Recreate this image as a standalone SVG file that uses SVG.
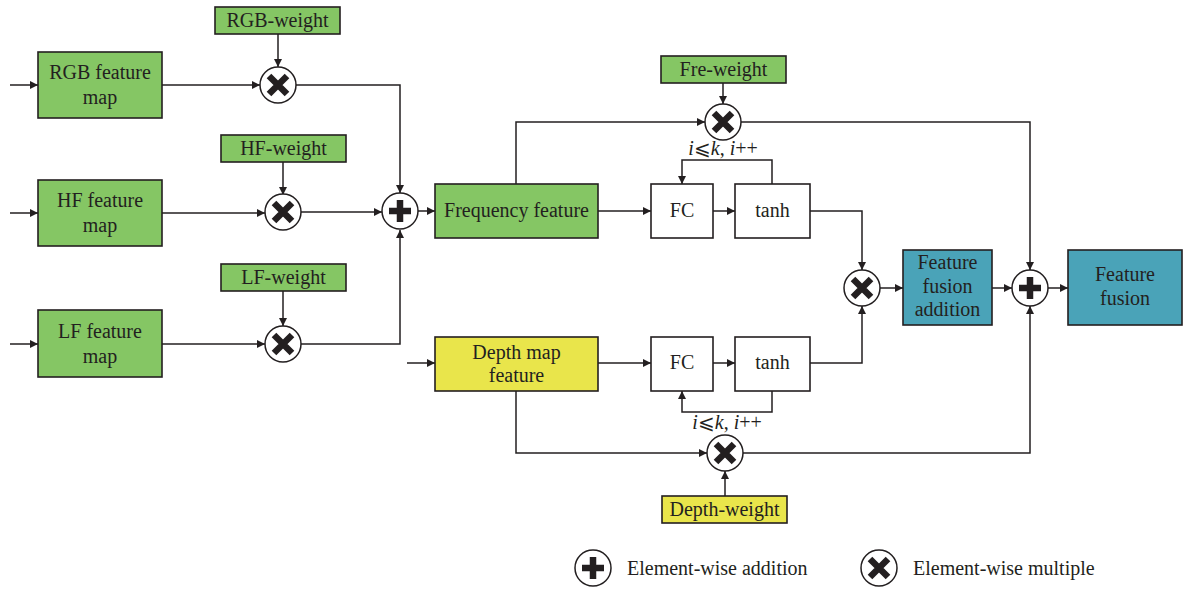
<svg xmlns="http://www.w3.org/2000/svg" xmlns:xlink="http://www.w3.org/1999/xlink" width="1184" height="589" viewBox="0 0 1184 589">
<style>
.box{stroke:#231f20;stroke-width:1.6}
.g{fill:#85c664}
.y{fill:#e9e54b}
.t{fill:#4aa3b8}
.w{fill:#ffffff}
text{font-family:"Liberation Serif","Times New Roman",serif;font-size:20px;fill:#231f20;text-anchor:middle}
.lbl{font-size:20px}
.it{font-style:italic}
.ln{fill:none;stroke:#231f20;stroke-width:1.5}
.leg{text-anchor:start}
</style>
<defs>
<marker id="ah" viewBox="0 0 10 10" refX="10" refY="5" markerWidth="9" markerHeight="8" markerUnits="userSpaceOnUse" orient="auto">
<path d="M0,0 L10,5 L0,10 z" fill="#231f20"/>
</marker>
<g id="mul">
<circle r="18" fill="#ffffff" stroke="#231f20" stroke-width="1.5"/>
<path d="M-9,-9 L9,9 M9,-9 L-9,9" stroke="#231f20" stroke-width="6.5"/>
</g>
<g id="add">
<circle r="18" fill="#ffffff" stroke="#231f20" stroke-width="1.5"/>
<path d="M-11,0 L11,0 M0,-11 L0,11" stroke="#231f20" stroke-width="6.5"/>
</g>
</defs>
<rect width="1184" height="589" fill="#ffffff"/>

<g id="connectors">
<path class="ln" d="M10,85 L38,85" marker-end="url(#ah)"/>
<path class="ln" d="M10,213 L38,213" marker-end="url(#ah)"/>
<path class="ln" d="M10,344 L38,344" marker-end="url(#ah)"/>
<path class="ln" d="M162,85 L260,85" marker-end="url(#ah)"/>
<path class="ln" d="M162,213 L265,213" marker-end="url(#ah)"/>
<path class="ln" d="M162,344 L265,344" marker-end="url(#ah)"/>
<path class="ln" d="M278,34 L278,67" marker-end="url(#ah)"/>
<path class="ln" d="M283,162 L283,195" marker-end="url(#ah)"/>
<path class="ln" d="M283,291 L283,326" marker-end="url(#ah)"/>
<path class="ln" d="M296,85 L400,85 L400,193" marker-end="url(#ah)"/>
<path class="ln" d="M301,212 L382,212" marker-end="url(#ah)"/>
<path class="ln" d="M301,344 L400,344 L400,230" marker-end="url(#ah)"/>
<path class="ln" d="M418,211 L435,211" marker-end="url(#ah)"/>
<path class="ln" d="M516,184 L516,122 L705,122" marker-end="url(#ah)"/>
<path class="ln" d="M723,83 L723,104" marker-end="url(#ah)"/>
<path class="ln" d="M598,211 L651,211" marker-end="url(#ah)"/>
<path class="ln" d="M713,211 L735,211" marker-end="url(#ah)"/>
<path class="ln" d="M772,184 L772,160 L682,160 L682,184" marker-end="url(#ah)"/>
<path class="ln" d="M810,211 L862,211 L862,270" marker-end="url(#ah)"/>
<path class="ln" d="M741,122 L1030,122 L1030,270" marker-end="url(#ah)"/>
<path class="ln" d="M880,288 L903,288" marker-end="url(#ah)"/>
<path class="ln" d="M992,288 L1012,288" marker-end="url(#ah)"/>
<path class="ln" d="M1048,288 L1068,288" marker-end="url(#ah)"/>
<path class="ln" d="M407,363 L435,363" marker-end="url(#ah)"/>
<path class="ln" d="M598,363 L651,363" marker-end="url(#ah)"/>
<path class="ln" d="M713,363 L735,363" marker-end="url(#ah)"/>
<path class="ln" d="M810,363 L862,363 L862,306" marker-end="url(#ah)"/>
<path class="ln" d="M772,391 L772,412 L682,412 L682,391" marker-end="url(#ah)"/>
<path class="ln" d="M516,391 L516,453 L707,453" marker-end="url(#ah)"/>
<path class="ln" d="M725,496 L725,471" marker-end="url(#ah)"/>
<path class="ln" d="M743,453 L1030,453 L1030,306" marker-end="url(#ah)"/>
</g>

<g id="rgb-map"><rect class="box g" x="38" y="52" width="124" height="66"/><text x="100" y="79">RGB feature</text><text x="100" y="104">map</text></g>
<g id="hf-map"><rect class="box g" x="38" y="180" width="124" height="66"/><text x="100" y="207">HF feature</text><text x="100" y="232">map</text></g>
<g id="lf-map"><rect class="box g" x="38" y="310" width="124" height="67"/><text x="100" y="338">LF feature</text><text x="100" y="363">map</text></g>
<g id="rgb-weight"><rect class="box g" x="215" y="7" width="125" height="27"/><text x="277.5" y="27">RGB-weight</text></g>
<g id="hf-weight"><rect class="box g" x="221" y="135" width="125" height="27"/><text x="283.5" y="155">HF-weight</text></g>
<g id="lf-weight"><rect class="box g" x="221" y="264" width="125" height="27"/><text x="283.5" y="284">LF-weight</text></g>
<g id="mul-rgb"><use xlink:href="#mul" href="#mul" x="278" y="85"/></g>
<g id="mul-hf"><use xlink:href="#mul" href="#mul" x="283" y="212"/></g>
<g id="mul-lf"><use xlink:href="#mul" href="#mul" x="283" y="344"/></g>
<g id="add-1"><use xlink:href="#add" href="#add" x="400" y="211"/></g>
<g id="freq"><rect class="box g" x="435" y="184" width="163" height="54"/><text x="516.5" y="217">Frequency feature</text></g>
<g id="fre-weight"><rect class="box g" x="661" y="56" width="125" height="27"/><text x="723.5" y="76">Fre-weight</text></g>
<g id="mul-fre"><use xlink:href="#mul" href="#mul" x="723" y="122"/></g>
<g id="loop-top"><text x="723" y="155"><tspan class="it">i</tspan>⩽<tspan class="it">k</tspan>, <tspan class="it">i</tspan>++</text></g>
<g id="fc-1"><rect class="box w" x="651" y="184" width="62" height="54"/><text x="682" y="217">FC</text></g>
<g id="tanh-1"><rect class="box w" x="735" y="184" width="75" height="54"/><text x="772.5" y="217">tanh</text></g>
<g id="mul-mid"><use xlink:href="#mul" href="#mul" x="862" y="288"/></g>
<g id="ffa"><rect class="box t" x="903" y="250" width="89" height="75"/><text x="947.5" y="269">Feature</text><text x="947.5" y="293">fusion</text><text x="947.5" y="316">addition</text></g>
<g id="add-2"><use xlink:href="#add" href="#add" x="1030" y="288"/></g>
<g id="ff"><rect class="box t" x="1068" y="250" width="114" height="75"/><text x="1125" y="281">Feature</text><text x="1125" y="305">fusion</text></g>
<g id="depth"><rect class="box y" x="435" y="337" width="163" height="54"/><text x="516.5" y="359">Depth map</text><text x="516.5" y="382">feature</text></g>
<g id="fc-2"><rect class="box w" x="651" y="337" width="62" height="54"/><text x="682" y="369">FC</text></g>
<g id="tanh-2"><rect class="box w" x="735" y="337" width="75" height="54"/><text x="772.5" y="369">tanh</text></g>
<g id="loop-bottom"><text x="727" y="429"><tspan class="it">i</tspan>⩽<tspan class="it">k</tspan>, <tspan class="it">i</tspan>++</text></g>
<g id="mul-depth"><use xlink:href="#mul" href="#mul" x="725" y="453"/></g>
<g id="depth-weight"><rect class="box y" x="662" y="496" width="125" height="27"/><text x="724.5" y="516">Depth-weight</text></g>

<g id="legend">
<use xlink:href="#add" href="#add" x="593" y="568"/>
<text class="leg" x="627" y="575">Element-wise addition</text>
<use xlink:href="#mul" href="#mul" x="879" y="568"/>
<text class="leg" x="913" y="575">Element-wise multiple</text>
</g>
</svg>
